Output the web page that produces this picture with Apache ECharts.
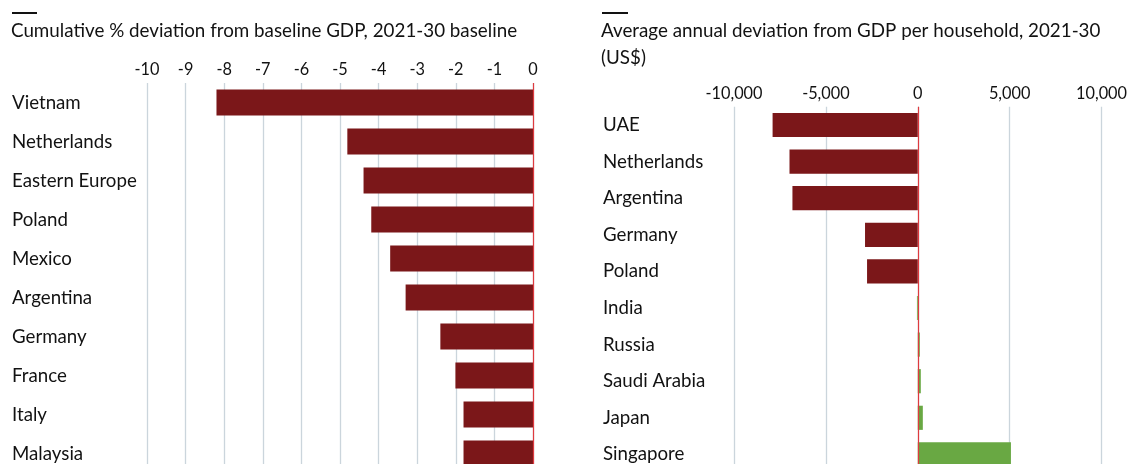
<!DOCTYPE html>
<html>
<head>
<meta charset="utf-8">
<style>
  html, body { margin: 0; padding: 0; background: #ffffff; overflow: hidden; }
  /* the canvas runs a little below the window so the last row is cut, as in print */
  #chart { width: 1130px; height: 484px; }
</style>
<script src="https://cdn.jsdelivr.net/npm/echarts@6/dist/echarts.min.js"></script>
</head>
<body>
<div id="chart"></div>
<script>
// Left panel: cumulative % deviation from baseline GDP, 2021-30
const gdpCountries = ['Vietnam', 'Netherlands', 'Eastern Europe', 'Poland', 'Mexico',
  'Argentina', 'Germany', 'France', 'Italy', 'Malaysia'];
const gdpDeviation = [-8.2, -4.81, -4.39, -4.19, -3.7, -3.3, -2.4, -2.01, -1.8, -1.8];
const gdpTicks = { min: -10, max: 0, step: 1 };

// Right panel: average annual deviation from GDP per household, 2021-30 (US$)
const householdCountries = ['UAE', 'Netherlands', 'Argentina', 'Germany', 'Poland',
  'India', 'Russia', 'Saudi Arabia', 'Japan', 'Singapore'];
const householdDeviation = [-7900, -6980, -6820, -2870, -2760, -45, 110, 165, 275, 5070];
const householdGainers = ['India', 'Russia', 'Saudi Arabia', 'Japan', 'Singapore'];
const householdTicks = { min: -10000, max: 10000, step: 5000 };

const titles = [
  'Cumulative % deviation from baseline GDP, 2021-30 baseline',
  'Average annual deviation from GDP per household, 2021-30\n(US$)'
];

const FONT = 'Lato';
const INK = '#121212';
const LOSS = '#7b1719';
const GAIN = '#69a843';
const ZERO = '#df3a3f';
const GRID = '#cbd5dc';

const chart = echarts.init(document.getElementById('chart'), null, { renderer: 'canvas' });

function valueAxis(gridIndex, ticks, margin, formatter) {
  return {
    type: 'value', gridIndex, position: 'top',
    min: ticks.min, max: ticks.max, interval: ticks.step,
    axisLine: { show: false }, axisTick: { show: false },
    splitLine: { show: true, lineStyle: { color: GRID, width: 1.3 } },
    axisLabel: { fontFamily: FONT, fontSize: 16.3, color: INK, margin, formatter }
  };
}

function categoryAxis(gridIndex, data, margin) {
  return {
    type: 'category', gridIndex, data, inverse: true,
    axisLine: { show: false }, axisTick: { show: false },
    axisLabel: { fontFamily: FONT, fontSize: 18.7, color: INK, align: 'left', margin }
  };
}

function zeroLine() {
  return {
    silent: true, symbol: 'none', z: 10,
    label: { show: false },
    lineStyle: { color: ZERO, width: 1.2, type: 'solid' },
    data: [{ xAxis: 0 }]
  };
}

const titleStyle = { fontFamily: FONT, fontSize: 18.8, fontWeight: 'normal', color: INK, lineHeight: 27 };

chart.setOption({
  animation: false,
  backgroundColor: '#ffffff',
  title: [
    { text: titles[0], left: 11, top: 17, padding: 0, textStyle: titleStyle },
    { text: titles[1], left: 601, top: 17, padding: 0, textStyle: titleStyle }
  ],
  graphic: [
    { type: 'rect', shape: { x: 12, y: 12, width: 25, height: 2 }, style: { fill: '#121212' } },
    { type: 'rect', shape: { x: 602, y: 12, width: 26, height: 2 }, style: { fill: '#121212' } }
  ],
  grid: [
    { left: 147, width: 386, top: 83, height: 390 },
    { left: 734, width: 370, top: 106.7, height: 366 }
  ],
  xAxis: [
    valueAxis(0, gdpTicks, 5),
    valueAxis(1, householdTicks, 5, v => v.toLocaleString('en-US'))
  ],
  yAxis: [
    categoryAxis(0, gdpCountries, 135),
    categoryAxis(1, householdCountries, 131)
  ],
  series: [
    {
      type: 'bar', xAxisIndex: 0, yAxisIndex: 0,
      barCategoryGap: '33%',
      itemStyle: { color: LOSS },
      data: gdpDeviation,
      markLine: zeroLine()
    },
    {
      type: 'bar', xAxisIndex: 1, yAxisIndex: 1,
      barCategoryGap: '34%',
      data: householdDeviation.map((v, i) => ({
        value: v,
        itemStyle: { color: householdGainers.includes(householdCountries[i]) ? GAIN : LOSS }
      })),
      markLine: zeroLine()
    }
  ]
});
</script>
</body>
</html>
